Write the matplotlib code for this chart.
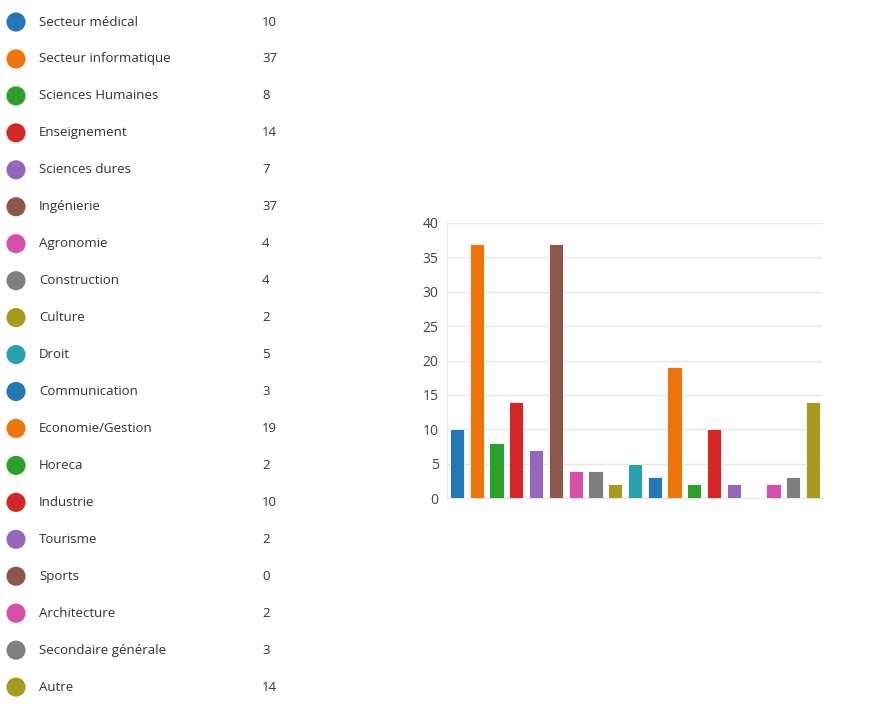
import numpy as np
import matplotlib.pyplot as plt

# données du formulaire
categories = ["Secteur médical", "Secteur informatique", "Sciences Humaines", "Enseignement",
              "Sciences dures", "Ingénierie", "Agronomie", "Construction", "Culture", "Droit",
              "Communication", "Economie/Gestion", "Horeca", "Industrie", "Tourisme", "Sports",
              "Architecture", "Secondaire générale", "Autre"]
values = [10, 37, 8, 14, 7, 37, 4, 4, 2, 5, 3, 19, 2, 10, 2, 0, 2, 3, 14]
palette = ["#2278b5", "#ed750a", "#2ca02c", "#d62728", "#9467bd", "#8c564b", "#d64ea8",
           "#7f7f7f", "#a79a1f", "#2aa0ac"]
colors = [palette[i % len(palette)] for i in range(len(categories))]

plt.rcParams['font.family'] = ['Open Sans', 'DejaVu Sans']

W, H = 892, 709
fig = plt.figure(figsize=(W / 100, H / 100), dpi=100)

# légende à gauche (coordonnées en pixels)
lax = fig.add_axes([0, 0, 1, 1])
lax.set_xlim(0, W)
lax.set_ylim(H, 0)
lax.axis('off')
y0, step = 22, 36.95
for i, (cat, v) in enumerate(zip(categories, values)):
    y = y0 + i * step
    lax.scatter(16, y, s=190, color=colors[i], edgecolors='none')
    lax.text(39, y, cat, va='center', ha='left', fontsize=9.5, color='#323130')
    lax.text(262, y, str(v), va='center', ha='left', fontsize=9.5, color='#323130')

# histogramme à droite
ax = fig.add_axes([447 / W, 1 - 498 / H, (823 - 447) / W, (498 - 223) / H])
x = np.arange(len(categories))
ax.bar(x, values, width=0.72, color=colors, edgecolor='white', linewidth=0.6, zorder=3)
ax.set_xlim(-0.5, len(categories) - 0.5)
ax.set_ylim(0, 40)
ax.set_yticks(range(0, 41, 5))
ax.set_xticks([])
ax.grid(axis='y', color='#e6e6e6', linewidth=1, zorder=0)
for s in ['top', 'right']:
    ax.spines[s].set_visible(False)
for s in ['left', 'bottom']:
    ax.spines[s].set_color('#e6e6e6')
ax.tick_params(axis='y', length=0, pad=6, labelsize=10, labelcolor='#444444')

fig.savefig('out.png', dpi=100)
